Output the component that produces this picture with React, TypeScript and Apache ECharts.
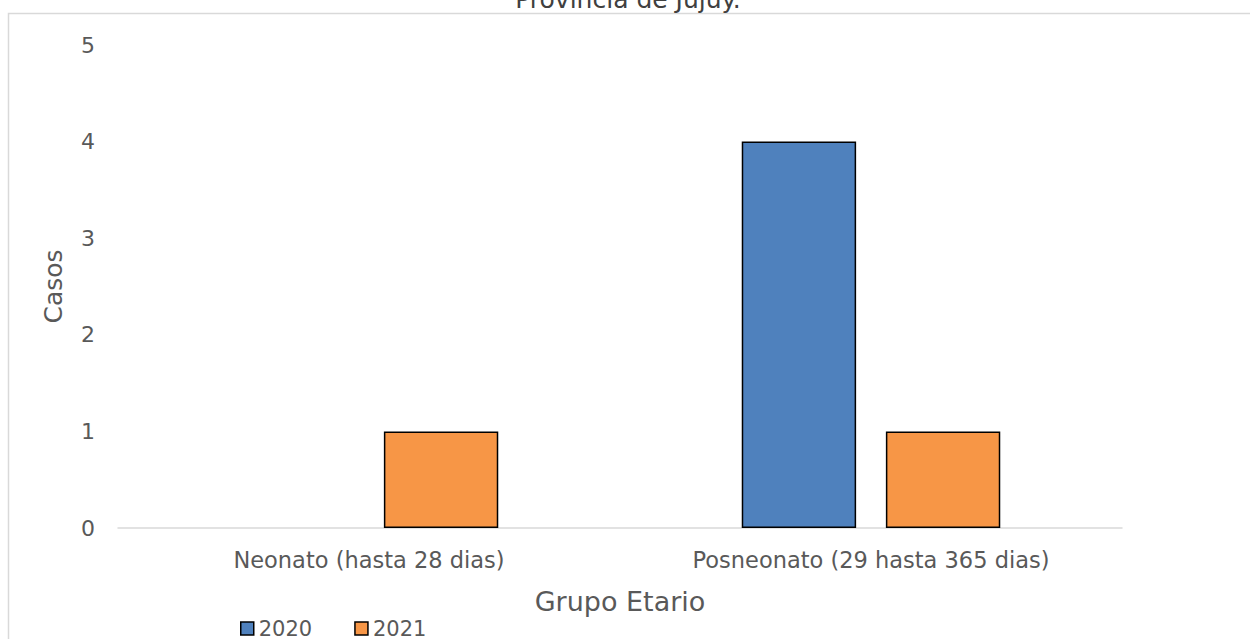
import React, { useEffect, useRef } from "react";
import * as echarts from "echarts";

const categories = ["Neonato (hasta 28 dias)", "Posneonato (29 hasta 365 dias)"];
const series2020 = [0, 4];
const series2021 = [1, 1];
const seriesNames = ["2020", "2021"];
const titleText = "Provincia de Jujuy.";

const FONT = "'DejaVu Sans', sans-serif";
const GRAY = "#595959";

const toBarData = (vals: number[]) =>
  vals.map((v) => (v === 0 ? { value: v, itemStyle: { borderWidth: 0 } } : v));

export default function App() {
  const ref = useRef<HTMLDivElement>(null);
  useEffect(() => {
    const chart = echarts.init(ref.current!, null, { renderer: "svg" });
    chart.setOption({
      animation: false,
      backgroundColor: "#fff",
      graphic: [
        {
          type: "rect",
          shape: { x: 8.5, y: 13.5, width: 1300, height: 700 },
          style: { fill: "none", stroke: "#D9D9D9", lineWidth: 1.5 },
          silent: true,
        },
        {
          type: "text",
          x: 628,
          y: 12,
          style: {
            text: titleText,
            fill: "#404040",
            font: `25px ${FONT}`,
            textAlign: "center",
            textVerticalAlign: "bottom",
          },
        },
      ],
      grid: { left: 118, right: 128, top: 45, bottom: 111 },
      legend: {
        data: seriesNames,
        left: 235,
        top: 613,
        icon: "rect",
        itemWidth: 13,
        itemHeight: 13,
        itemGap: 42,
        textStyle: { color: GRAY, fontSize: 21, fontFamily: FONT },
        itemStyle: { borderColor: "#000", borderWidth: 1.5 },
      },
      xAxis: {
        type: "category",
        data: categories,
        name: "Grupo Etario",
        nameLocation: "middle",
        nameGap: 60,
        nameTextStyle: { color: GRAY, fontSize: 27, fontFamily: FONT },
        axisLine: { lineStyle: { color: "#D9D9D9", width: 1.5 } },
        axisTick: { show: false },
        axisLabel: { color: GRAY, fontSize: 22.5, fontFamily: FONT, margin: 20 },
      },
      yAxis: {
        type: "value",
        min: 0,
        max: 5,
        interval: 1,
        name: "Casos",
        nameLocation: "middle",
        nameGap: 52,
        nameTextStyle: { color: GRAY, fontSize: 25, fontFamily: FONT },
        splitLine: { show: false },
        axisLine: { show: false },
        axisTick: { show: false },
        axisLabel: { color: GRAY, fontSize: 22, fontFamily: FONT, margin: 23 },
      },
      series: [
        {
          name: seriesNames[0],
          type: "bar",
          data: toBarData(series2020),
          barGap: "26%",
          barCategoryGap: "48.5%",
          itemStyle: { color: "#4F81BD", borderColor: "#000", borderWidth: 1.5 },
        },
        {
          name: seriesNames[1],
          type: "bar",
          data: toBarData(series2021),
          itemStyle: { color: "#F79646", borderColor: "#000", borderWidth: 1.5 },
        },
      ],
    });
    return () => chart.dispose();
  }, []);
  return <div ref={ref} style={{ width: 1250, height: 639, position: "absolute", left: 0, top: 0 }} />;
}
